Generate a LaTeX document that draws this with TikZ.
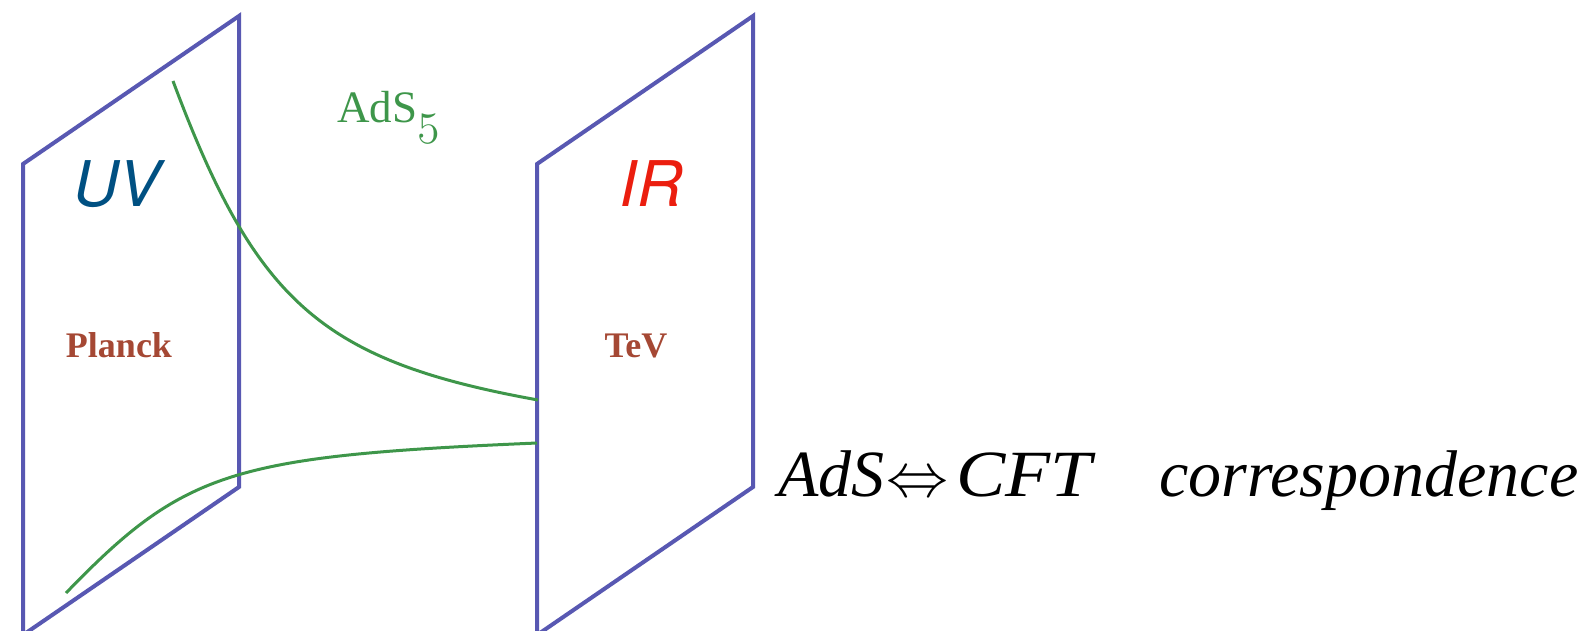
\documentclass[tikz,border=0pt]{standalone}
\usepackage{fix-cm}
\usepackage{fontspec}
\setmainfont{Liberation Serif}
\newfontfamily\helv{TeX Gyre Heros}
\definecolor{panelblue}{RGB}{88,88,178}
\definecolor{curvegreen}{RGB}{62,150,74}
\definecolor{uvblue}{RGB}{0,80,130}
\definecolor{irred}{RGB}{235,30,15}
\definecolor{scalebrown}{RGB}{165,72,52}
\begin{document}
\begin{tikzpicture}[x=1pt,y=-1pt,
  panel/.style={draw=panelblue,line width=4pt,line join=miter},
  curve/.style={draw=curvegreen,line width=3pt},
  branelabel/.style={inner sep=0pt,anchor=base,font=\helv\itshape\fontsize{63}{70}\selectfont},
  scalelabel/.style={inner sep=0pt,anchor=base,text=scalebrown,font=\bfseries\fontsize{36}{40}\selectfont},
  bigtext/.style={inner sep=0pt,anchor=base west,font=\itshape\fontsize{66}{72}\selectfont}]
\useasboundingbox (0,0) rectangle (1594,631);
% branes
\draw[panel] (23,164) -- (239,16) -- (239,487) -- (23,635) -- cycle;
\draw[panel] (537,164) -- (753,16) -- (753,487) -- (537,635) -- cycle;
% curves
\coordinate (c1a) at (173,81);
\coordinate (c1b) at (538,400);
\coordinate (c2a) at (66,593);
\coordinate (c2b) at (537,443);
\draw[curve] (c1a) .. controls (256,303) and (322,361) .. (c1b);
\draw[curve] (c2a) .. controls (184,471) and (231,456) .. (c2b);
% labels
\node[branelabel,text=uvblue] (uv) at (117,207) {UV};
\node[branelabel,text=irred] (ir) at (651,207) {IR};
\node[scalelabel] (planck) at (119,357) {Planck};
\node[scalelabel] (tev) at (636,357) {TeV};
\node[inner sep=0pt,anchor=base west,text=curvegreen,font=\fontsize{45}{50}\selectfont] (ads5) at (337,123)
  {AdS\raisebox{-12pt}{\fontsize{46}{50}\usefont{OML}{cmm}{m}{it}5}};
\node[bigtext] (ads) at (778,496) {AdS};
\node[inner sep=0pt,anchor=base west,font=\fontsize{62}{66}\selectfont] (arrow) at (886,496) {$\Leftrightarrow$};
\node[bigtext] (cft) at (956,496) {\scalebox{1.12}[1]{CFT}};
\node[bigtext] (corr) at (1159,496) {correspondence};
\end{tikzpicture}
\end{document}
